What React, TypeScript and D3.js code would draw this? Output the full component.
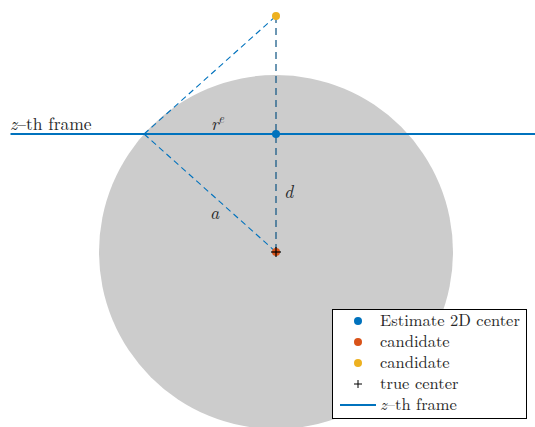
import React from "react";
import * as d3 from "d3";

// data (units of the sphere)
const sphereCenter = [0, 0];
const sphereRadius = [3];
const frameZ = [2];
const estimatePoint = [0, 2];
const candidateRed = [0, 0];
const candidateYellow = [0, 4];
const trueCenter = [0, 0];
const frameXRange = [-4.5, 4.4];
const legendLabels = ["Estimate 2D center", "candidate", "candidate", "true center", "z–th frame"];
const colors = ["#0072BD", "#D95319", "#EDB120", "#000000", "#0072BD"];

const W = 535;
const H = 427;

export default function App() {
  const k = 59;
  const x = d3.scaleLinear().domain([0, 1]).range([276, 276 + k]);
  const y = d3.scaleLinear().domain([0, 1]).range([252, 252 - k]);
  const R = sphereRadius[0];
  const z = frameZ[0];
  const ix = -Math.sqrt(R * R - z * z);
  const line = d3.line<number[]>().x((d) => x(d[0])).y((d) => y(d[1]));
  const serif = "'Latin Modern Roman','CMU Serif','DejaVu Serif',serif";
  const legendY = [321, 342, 363, 384, 405];
  const txt = "#262626";
  return (
    <svg width={W} height={H} style={{ position: "absolute", left: 0, top: 0, background: "#fff" }} fontFamily={serif}>
      <circle cx={x(sphereCenter[0])} cy={y(sphereCenter[1])} r={x(R) - x(0)} fill="#CCCCCC" />
      <path d={line([[frameXRange[0], z], [frameXRange[1], z]]) || ""} stroke="#0072BD" strokeWidth={2} fill="none" />
      <path d={line([[ix, z], candidateYellow]) || ""} stroke="#0072BD" strokeWidth={1.1} strokeDasharray="6,4" fill="none" />
      <path d={line([[ix, z], candidateRed]) || ""} stroke="#0072BD" strokeWidth={1.1} strokeDasharray="6,4" fill="none" />
      <path d={line([candidateYellow, candidateRed]) || ""} stroke="#0072BD" strokeWidth={1} strokeDasharray="7,5" fill="none" />
      <path d={line([candidateYellow, candidateRed]) || ""} stroke="#333" strokeWidth={0.5} strokeDasharray="7,5" fill="none" />
      <circle cx={x(estimatePoint[0])} cy={y(estimatePoint[1])} r={4} fill={colors[0]} />
      <circle cx={x(candidateRed[0])} cy={y(candidateRed[1])} r={4} fill={colors[1]} />
      <circle cx={x(candidateYellow[0])} cy={y(candidateYellow[1])} r={4} fill={colors[2]} />
      <g stroke="#000" strokeWidth={1.2}>
        <line x1={x(trueCenter[0]) - 5} x2={x(trueCenter[0]) + 5} y1={y(trueCenter[1])} y2={y(trueCenter[1])} />
        <line x1={x(trueCenter[0])} x2={x(trueCenter[0])} y1={y(trueCenter[1]) - 5} y2={y(trueCenter[1]) + 5} />
      </g>
      <text x={10} y={130} fontSize={17.5} fill={txt}>
        <tspan fontStyle="italic">z</tspan>–th frame
      </text>
      <text x={211} y={130} fontSize={18} fontStyle="italic" fill={txt}>
        r<tspan fontSize={12} dy={-7}>e</tspan>
      </text>
      <text x={284} y={198} fontSize={18} fontStyle="italic" fill={txt}>d</text>
      <text x={210} y={219} fontSize={18} fontStyle="italic" fill={txt}>a</text>
      <rect x={332.5} y={309.5} width={194} height={109} fill="#fff" stroke="#000" strokeWidth={1} />
      {legendLabels.map((lab, i) => {
        const cy = legendY[i];
        let marker;
        if (i < 3) marker = <circle cx={358} cy={cy} r={4} fill={colors[i]} />;
        else if (i === 3)
          marker = (
            <g stroke="#000" strokeWidth={1}>
              <line x1={354} x2={362} y1={cy} y2={cy} />
              <line x1={358} x2={358} y1={cy - 4} y2={cy + 4} />
            </g>
          );
        else marker = <line x1={340} x2={376} y1={cy} y2={cy} stroke={colors[4]} strokeWidth={2} />;
        return (
          <g key={i}>
            {marker}
            <text x={380} y={cy + 5} fontSize={16.5} fill={txt}>
              {i === 4 ? (
                <>
                  <tspan fontStyle="italic">z</tspan>–th frame
                </>
              ) : (
                lab
              )}
            </text>
          </g>
        );
      })}
    </svg>
  );
}
